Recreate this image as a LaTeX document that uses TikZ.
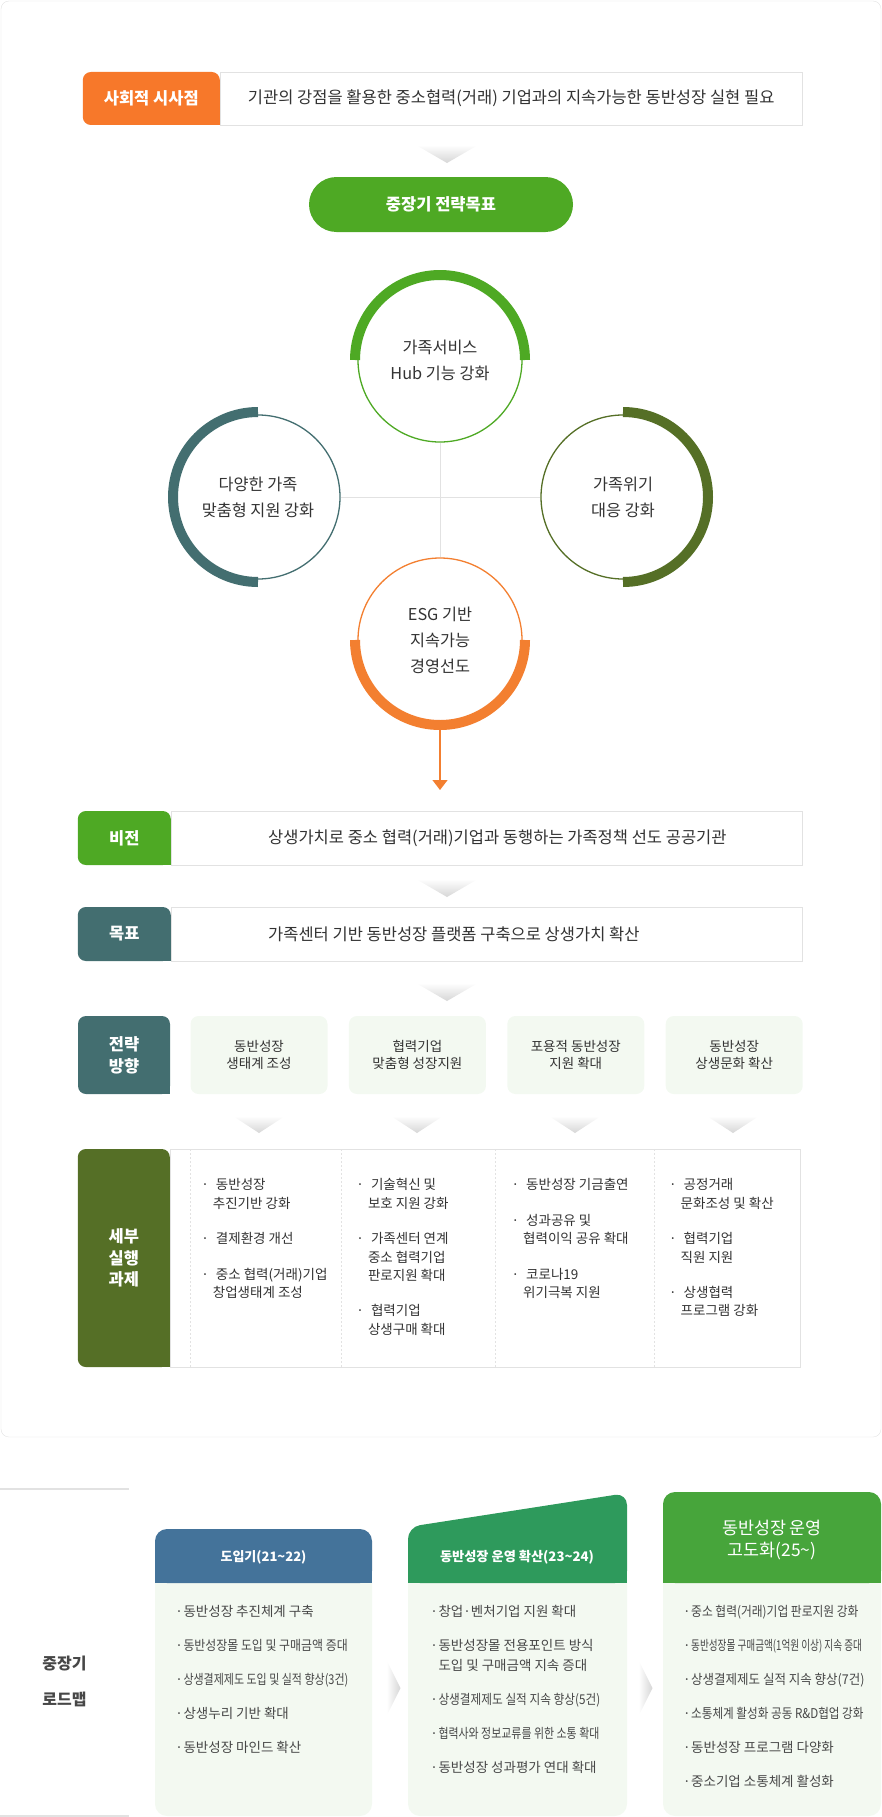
\documentclass[tikz,border=0pt]{standalone}
\usepackage{fontspec}
\setmainfont{Noto Sans CJK KR}
\usepackage{graphicx}
\usepackage{tikz}
\usetikzlibrary{arrows.meta,positioning}
\usepackage{xcolor}
\definecolor{SignalOrange}{HTML}{F7782A}
\definecolor{LeafGreen}{HTML}{4EA924}
\definecolor{SlateTeal}{HTML}{436E70}
\definecolor{MossGreen}{HTML}{556F26}
\definecolor{EsgOrange}{HTML}{F37F30}
\definecolor{RoadBlue}{HTML}{44739A}
\definecolor{RoadGreen}{HTML}{2E9A5C}
\definecolor{RoadLime}{HTML}{47A53B}
\definecolor{PaleMint}{HTML}{F3F9F1}
\definecolor{LineGray}{HTML}{E2E2E2}
\definecolor{ChevGray}{HTML}{D6D6D6}
\definecolor{InkGray}{HTML}{333333}
\newcommand{\fs}[2]{\fontsize{#1}{#2}\selectfont}
\newcommand{\bul}[1][0.5pt]{\llap{·\hspace{#1}}}
\newcommand{\sqz}[2]{\scalebox{#1}[1]{#2}}

\begin{document}
\begin{tikzpicture}[x=1pt,y=-1pt,
  tag/.style={fill=#1,rounded corners=8pt,text=white,font=\bfseries\fs{16.5}{21.7},align=center,inner sep=0pt},
  rowbox/.style={draw=LineGray,fill=white,minimum height=#1,inner sep=0pt},
  rowtxt/.style={font=\fs{16.5}{20},text=InkGray,inner sep=0pt},
  ring/.style={circle,draw=#1,line width=1.3pt,fill=white,minimum size=164pt,inner sep=0pt,align=center,font=\fs{16.3}{26},text=InkGray},
  wbox/.style={fill=PaleMint,rounded corners=8pt,minimum width=137pt,minimum height=78pt,align=center,font=\fs{13.5}{17.5},text=InkGray,inner sep=0pt},
  todo/.style={anchor=north west,align=left,font=\fs{13.5}{18.4},text=InkGray,inner sep=0pt},
  plan/.style={anchor=north west,align=left,font=\fs{13.5}{20},text=InkGray!90,inner sep=0pt},
  hdtxt/.style={text=white,align=center,inner sep=0pt},
  chev/.style={top color=white,bottom color=ChevGray}]
\useasboundingbox (0,0) rectangle (882,1817);

% panel
\draw[LineGray,rounded corners=8pt] (1,1) rectangle (881,1437);

% social need
\node[rowbox=53pt,minimum width=582pt,anchor=west] (needbox) at (220,98.5) {};
\node[tag=SignalOrange,minimum width=137pt,minimum height=53pt,left=0pt of needbox] (need) {사회적 시사점};
\fill[SignalOrange] (need.south east) rectangle ++(-10,-10);
\node[rowtxt] (needtxt) at (needbox) {기관의 강점을 활용한 중소협력(거래) 기업과의 지속가능한 동반성장 실현 필요};

\foreach \y in {145,879,983}
  \shade[chev] (416,\y) -- (478,\y) -- (447,\y+18) -- cycle;

\node[fill=LeafGreen,rounded corners=27.5pt,minimum width=264pt,minimum height=55pt,text=white,font=\bfseries\fs{16.5}{20}] (goal) at (441,204.5) {중장기 전략목표};

% four circles
\node[ring=LeafGreen] (hub) at (440,360) {가족서비스\\Hub 기능 강화};
\node[ring=SlateTeal] (fam) at (258,497) {다양한 가족\\맞춤형 지원 강화};
\node[ring=MossGreen] (crisis) at (623,497) {가족위기\\대응 강화};
\node[ring=EsgOrange] (esg) at (440,640) {ESG 기반\\지속가능\\경영선도};
\draw[LineGray] (hub) -- (esg);
\draw[LineGray] (fam) -- (crisis);
\draw[LeafGreen,line width=10pt] (hub.center) ++(-85,0) arc[start angle=180,end angle=360,radius=85];
\draw[SlateTeal,line width=10pt] (fam.center) ++(0,85) arc[start angle=90,end angle=270,radius=85];
\draw[MossGreen,line width=10pt] (crisis.center) ++(0,-85) arc[start angle=-90,end angle=90,radius=85];
\draw[EsgOrange,line width=10pt] (esg.center) ++(85,0) arc[start angle=0,end angle=180,radius=85];
\coordinate (tip) at (440,790);
\draw[EsgOrange,line width=1.2pt,-{Triangle[width=15pt,length=10pt]}] (esg) -- (tip);

% vision / target
\node[rowbox=54pt,minimum width=631pt,anchor=west] (visbox) at (171,838) {};
\node[tag=LeafGreen,minimum width=93pt,minimum height=54pt,left=0pt of visbox] (vis) {비전};
\fill[LeafGreen] (vis.south east) rectangle ++(-10,-10);
\node[rowtxt,anchor=west] (vistxt) at ([xshift=97pt]visbox.west) {상생가치로 중소 협력(거래)기업과 동행하는 가족정책 선도 공공기관};

\node[rowbox=54pt,minimum width=631pt,anchor=west] (aimbox) at (171,934) {};
\node[tag=SlateTeal,minimum width=93pt,minimum height=54pt,left=0pt of aimbox] (aim) {목표};
\fill[SlateTeal] (aim.south east) rectangle ++(-10,-10);
\node[rowtxt,anchor=west] (aimtxt) at ([xshift=97pt]aimbox.west) {가족센터 기반 동반성장 플랫폼 구축으로 상생가치 확산};

% strategy
\node[tag=SlateTeal,minimum width=92pt,minimum height=78pt] (way) at (124,1055) {전략\\방향};
\fill[SlateTeal] (way.south east) rectangle ++(-10,-10);
\node[wbox] (w1) at (259,1055) {동반성장\\생태계 조성};
\node[wbox,right=21pt of w1] (w2) {협력기업\\맞춤형 성장지원};
\node[wbox,right=21pt of w2] (w3) {포용적 동반성장\\지원 확대};
\node[wbox,right=21pt of w3] (w4) {동반성장\\상생문화 확산};
\foreach \x in {259,417,575,733}
  \shade[chev] (\x-26,1116) -- (\x+26,1116) -- (\x,1133) -- cycle;

% tasks
\node[rowbox=218pt,minimum width=630pt,anchor=west] (todobox) at (170,1258) {};
\node[tag=MossGreen,minimum width=92pt,minimum height=218pt,left=0pt of todobox] (task) {세부\\실행\\과제};
\fill[MossGreen] (task.south east) rectangle ++(-10,-10);
\foreach \x in {190,341,495,654}
  \draw[LineGray,dash pattern=on 2pt off 2pt] (\x,1149) -- (\x,1367);
\node[todo] (t1) at (212.7,1178.5) {\bul[4pt] 동반성장\\추진기반 강화\\[17pt]\bul[4pt] 결제환경 개선\\[17pt]\bul[4pt] 중소 협력(거래)기업\\창업생태계 조성};
\node[todo] (t2) at (367.8,1178.5) {\bul[4pt] 기술혁신 및\\보호 지원 강화\\[17pt]\bul[4pt] 가족센터 연계\\중소 협력기업\\판로지원 확대\\[17pt]\bul[4pt] 협력기업\\상생구매 확대};
\node[todo] (t3) at (523,1178.5) {\bul[4pt] 동반성장 기금출연\\[17pt]\bul[4pt] 성과공유 및\\협력이익 공유 확대\\[17pt]\bul[4pt] 코로나19\\위기극복 지원};
\node[todo] (t4) at (680.5,1178.5) {\bul[4pt] 공정거래\\문화조성 및 확산\\[17pt]\bul[4pt] 협력기업\\직원 지원\\[17pt]\bul[4pt] 상생협력\\프로그램 강화};

% roadmap
\draw[LineGray,line width=2pt] (0,1489) -- (129,1489);
\draw[LineGray,line width=2pt] (0,1816) -- (129,1816);
\node[font=\bfseries\fs{16}{36},text=InkGray!90,align=center] (road) at (64.5,1681) {중장기\\로드맵};

\fill[PaleMint,rounded corners=12pt] (155,1560) rectangle (372,1816);
\fill[RoadBlue,rounded corners=12pt] (155,1529) rectangle (372,1583);
\fill[RoadBlue] (155,1560) rectangle (372,1583);
\node[hdtxt,font=\bfseries\fs{13}{18}] (st1) at (263.5,1557.7) {도입기(21\textasciitilde22)};

\fill[PaleMint,rounded corners=12pt] (408,1560) rectangle (627,1816);
\fill[RoadGreen,rounded corners=12pt] (408,1583) -- (408,1527) -- (627,1493) -- (627,1583) -- cycle;
\fill[RoadGreen] (408,1560) rectangle (627,1583);
\node[hdtxt,font=\bfseries\fs{13.2}{18}] (st2) at (517,1557.7) {동반성장 운영 확산(23\textasciitilde24)};

\fill[PaleMint,rounded corners=12pt] (663,1560) rectangle (881,1816);
\fill[RoadLime,rounded corners=12pt] (663,1492) rectangle (881,1583);
\fill[RoadLime] (663,1560) rectangle (881,1583);
\node[hdtxt,font=\fs{17.4}{22}] (st3) at (772,1539.5) {동반성장 운영\\고도화(25\textasciitilde)};

\foreach \x in {386.5,638.5}
  \shade[left color=white,right color=ChevGray] (\x,1660) -- (\x+14,1688) -- (\x,1716) -- cycle;

\node[plan] (p1) at (183.3,1605.5) {\bul 동반성장 추진체계 구축\\[14pt]\bul \sqz{0.883}{동반성장몰 도입 및 구매금액 증대}\\[14pt]\bul \sqz{0.814}{상생결제제도 도입 및 실적 향상(3건)}\\[14pt]\bul 상생누리 기반 확대\\[14pt]\bul 동반성장 마인드 확산};
\node[plan] (p2) at (438.3,1605.5) {\bul 창업·벤처기업 지원 확대\\[14pt]\bul 동반성장몰 전용포인트 방식\\도입 및 구매금액 지속 증대\\[14pt]\bul \sqz{0.864}{상생결제제도 실적 지속 향상(5건)}\\[14pt]\bul \sqz{0.811}{협력사와 정보교류를 위한 소통 확대}\\[14pt]\bul 동반성장 성과평가 연대 확대};
\node[plan] (p3) at (691,1605.5) {\bul \sqz{0.871}{중소 협력(거래)기업 판로지원 강화}\\[14pt]\bul \sqz{0.712}{동반성장몰 구매금액(1억원 이상) 지속 증대}\\[14pt]\bul \sqz{0.926}{상생결제제도 실적 지속 향상(7건)}\\[14pt]\bul \sqz{0.859}{소통체계 활성화 공동 R\&D협업 강화}\\[14pt]\bul 동반성장 프로그램 다양화\\[14pt]\bul 중소기업 소통체계 활성화};
\end{tikzpicture}
\end{document}
